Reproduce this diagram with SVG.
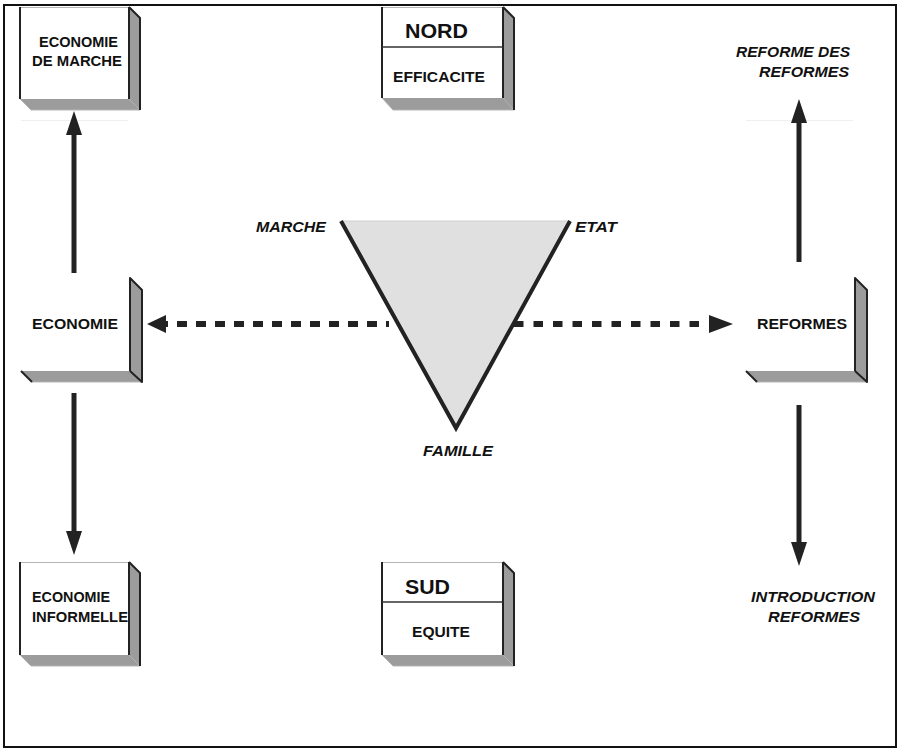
<svg xmlns="http://www.w3.org/2000/svg" width="902" height="751" viewBox="0 0 902 751">
  <style>
    .txt { font-family: "Liberation Sans", Arial, Helvetica, sans-serif; font-weight: bold; fill: #111; }
    .lbl { font-size: 14.5px; }
    .big { font-size: 20px; }
    .it { font-style: italic; }
    .face { fill: #fff; }
    .shade { fill: #9c9c9c; }
    .edge { fill: none; stroke: #222; stroke-width: 2; stroke-linejoin: round; }
    .soft { fill: none; stroke: #b5b5b5; stroke-width: 1; }
    .faint { stroke: #efefef; stroke-width: 1; }
    .shaft { stroke: #222; stroke-width: 5; fill: none; }
    .dash { stroke: #222; stroke-width: 6; fill: none; }
    .head { fill: #222; }
  </style>

  <!-- frame -->
  <rect x="4" y="5" width="892" height="742" fill="#fff" stroke="#111" stroke-width="2"/>

  <!-- faint guide lines under the top boxes -->
  <line class="faint" x1="21" y1="120.5" x2="128" y2="120.5"/>
  <line class="faint" x1="746" y1="120.5" x2="853" y2="120.5"/>

  <!-- connectors -->
  <g id="connectors">
    <!-- ECONOMIE -> ECONOMIE DE MARCHE -->
    <line class="shaft" x1="74" y1="273" x2="74" y2="133"/>
    <polygon class="head" points="74,111 66,135 82,135"/>
    <!-- ECONOMIE -> ECONOMIE INFORMELLE -->
    <line class="shaft" x1="74" y1="393" x2="74" y2="533"/>
    <polygon class="head" points="74,555 66,531 82,531"/>
    <!-- REFORMES -> REFORME DES REFORMES -->
    <line class="shaft" x1="799" y1="262" x2="799" y2="121"/>
    <polygon class="head" points="799,99 791,123 807,123"/>
    <!-- REFORMES -> INTRODUCTION REFORMES -->
    <line class="shaft" x1="799" y1="405" x2="799" y2="544"/>
    <polygon class="head" points="799,566 791,542 807,542"/>
    <!-- dashed arrows from the triangle -->
    <line class="dash" x1="158" y1="324" x2="389" y2="324" stroke-dasharray="10 9"/>
    <polygon class="head" points="147,324 166,315 166,333"/>
    <line class="dash" x1="514" y1="324" x2="710" y2="324" stroke-dasharray="9.5 10"/>
    <polygon class="head" points="733,324 709,315 709,333"/>
  </g>

  <!-- central triangle -->
  <g id="triangle">
    <polygon points="341,221 570,221 456,428" fill="#e0e0e0"/>
    <line x1="341" y1="221" x2="570" y2="221" stroke="#d0d0d0" stroke-width="1"/>
    <polyline points="341,221 456,428 570,221" fill="none" stroke="#222" stroke-width="4" stroke-linejoin="miter"/>
    <text class="txt lbl it" x="256" y="232" textLength="70" lengthAdjust="spacingAndGlyphs">MARCHE</text>
    <text class="txt lbl it" x="575" y="232" textLength="42" lengthAdjust="spacingAndGlyphs">ETAT</text>
    <text class="txt lbl it" x="423" y="456" textLength="70" lengthAdjust="spacingAndGlyphs">FAMILLE</text>
  </g>

  <!-- ECONOMIE DE MARCHE -->
  <g id="economie-marche">
    <polygon class="shade" points="129,7 140,18 140,110 129,99"/>
    <polygon class="shade" points="20,99 31,110 140,110 129,99"/>
    <rect class="face" x="20" y="7" width="109" height="92"/>
    <line class="soft" x1="20" y1="7.5" x2="129" y2="7.5"/>
    <polyline class="soft" points="20,99 31,110 140,110"/>
    <line class="edge" x1="20" y1="7" x2="20" y2="99"/>
    <line class="edge" x1="129" y1="7" x2="129" y2="99"/>
    <polyline class="edge" points="129,7 140,18 140,110"/>
    <text class="txt lbl" x="39" y="47" textLength="79" lengthAdjust="spacingAndGlyphs">ECONOMIE</text>
    <text class="txt lbl" x="32" y="66" textLength="90" lengthAdjust="spacingAndGlyphs">DE MARCHE</text>
  </g>

  <!-- NORD / EFFICACITE -->
  <g id="nord">
    <polygon class="shade" points="503,7 514,18 514,110 503,98"/>
    <polygon class="shade" points="382,98 393,110 514,110 503,98"/>
    <rect class="face" x="382" y="7" width="121" height="91"/>
    <line class="soft" x1="382" y1="7.5" x2="503" y2="7.5"/>
    <polyline class="soft" points="382,98 393,110 514,110"/>
    <line class="edge" x1="382" y1="7" x2="382" y2="98"/>
    <line class="edge" x1="503" y1="7" x2="503" y2="98"/>
    <line x1="382" y1="47" x2="503" y2="47" stroke="#333" stroke-width="1.5"/>
    <polyline class="edge" points="503,7 514,18 514,110"/>
    <text class="txt big" x="405" y="38" textLength="63" lengthAdjust="spacingAndGlyphs">NORD</text>
    <text class="txt lbl" x="393" y="82" textLength="92" lengthAdjust="spacingAndGlyphs">EFFICACITE</text>
  </g>

  <!-- REFORME DES REFORMES -->
  <g id="reforme-des-reformes">
    <text class="txt lbl it" x="736" y="57" textLength="114" lengthAdjust="spacingAndGlyphs">REFORME DES</text>
    <text class="txt lbl it" x="759" y="77" textLength="90" lengthAdjust="spacingAndGlyphs">REFORMES</text>
  </g>

  <!-- ECONOMIE (open box) -->
  <g id="economie">
    <polygon class="shade" points="130,278 142,290 142,382 130,371"/>
    <polygon class="shade" points="21,371 32,382 142,382 130,371"/>
    <line class="soft" x1="32" y1="382" x2="142" y2="382"/>
    <line class="edge" x1="21" y1="371" x2="32" y2="382"/>
    <polyline class="edge" points="130,371 130,278 142,290 142,382 130,371"/>
    <text class="txt lbl" x="32" y="329" textLength="86" lengthAdjust="spacingAndGlyphs">ECONOMIE</text>
  </g>

  <!-- REFORMES (open box) -->
  <g id="reformes">
    <polygon class="shade" points="855,278 867,290 867,382 855,371"/>
    <polygon class="shade" points="746,371 757,382 867,382 855,371"/>
    <line class="soft" x1="757" y1="382" x2="867" y2="382"/>
    <line class="edge" x1="746" y1="371" x2="757" y2="382"/>
    <polyline class="edge" points="855,371 855,278 867,290 867,382 855,371"/>
    <text class="txt lbl" x="757" y="329" textLength="90" lengthAdjust="spacingAndGlyphs">REFORMES</text>
  </g>

  <!-- ECONOMIE INFORMELLE -->
  <g id="economie-informelle">
    <polygon class="shade" points="129,562 140,573 140,666 129,655"/>
    <polygon class="shade" points="20,655 31,666 140,666 129,655"/>
    <rect class="face" x="20" y="562" width="109" height="93"/>
    <line class="soft" x1="20" y1="562.5" x2="129" y2="562.5"/>
    <polyline class="soft" points="20,655 31,666 140,666"/>
    <line class="edge" x1="20" y1="562" x2="20" y2="655"/>
    <line class="edge" x1="129" y1="562" x2="129" y2="655"/>
    <polyline class="edge" points="129,562 140,573 140,666"/>
    <text class="txt lbl" x="32" y="602" textLength="78" lengthAdjust="spacingAndGlyphs">ECONOMIE</text>
    <text class="txt lbl" x="32" y="622" textLength="96" lengthAdjust="spacingAndGlyphs">INFORMELLE</text>
  </g>

  <!-- SUD / EQUITE -->
  <g id="sud">
    <polygon class="shade" points="503,562 514,573 514,666 503,655"/>
    <polygon class="shade" points="382,655 393,666 514,666 503,655"/>
    <rect class="face" x="382" y="562" width="121" height="93"/>
    <line class="soft" x1="382" y1="562.5" x2="503" y2="562.5"/>
    <polyline class="soft" points="382,655 393,666 514,666"/>
    <line class="edge" x1="382" y1="562" x2="382" y2="655"/>
    <line class="edge" x1="503" y1="562" x2="503" y2="655"/>
    <line x1="382" y1="602" x2="503" y2="602" stroke="#333" stroke-width="1.5"/>
    <polyline class="edge" points="503,562 514,573 514,666"/>
    <text class="txt big" x="405" y="594" textLength="45" lengthAdjust="spacingAndGlyphs">SUD</text>
    <text class="txt lbl" x="412" y="637" textLength="58" lengthAdjust="spacingAndGlyphs">EQUITE</text>
  </g>

  <!-- INTRODUCTION REFORMES -->
  <g id="introduction-reformes">
    <text class="txt lbl it" x="751" y="602" textLength="124" lengthAdjust="spacingAndGlyphs">INTRODUCTION</text>
    <text class="txt lbl it" x="768" y="622" textLength="92" lengthAdjust="spacingAndGlyphs">REFORMES</text>
  </g>
</svg>
